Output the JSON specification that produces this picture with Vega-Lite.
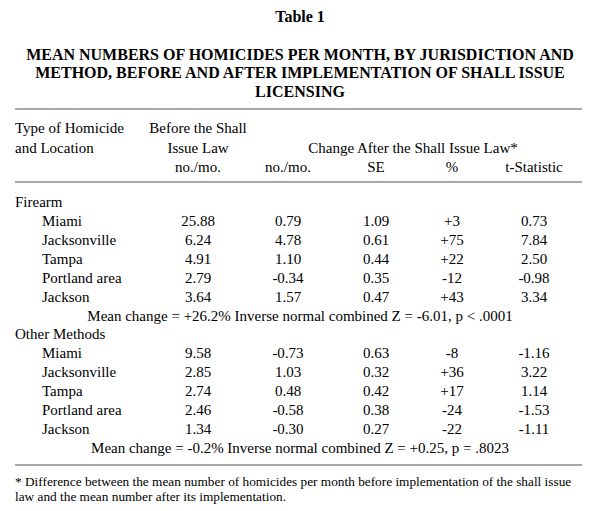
{
  "$schema": "https://vega.github.io/schema/vega-lite/v6.json",
  "width": 605,
  "height": 511,
  "autosize": {"type": "none"},
  "padding": 0,
  "background": "white",
  "config": {"view": {"stroke": null}, "text": {"font": "Liberation Serif", "color": "#000000"}},
  "encoding": {
    "x": {"field": "col", "type": "quantitative", "axis": null,
      "scale": {"domain": [0, 1, 2, 3, 4, 5, 6, 7, 8, 9], "range": [15, 42, 198, 288, 300, 376, 413, 452, 534, 582], "nice": false, "zero": false}},
    "y": {"field": "line", "type": "quantitative", "axis": null,
      "scale": {"domain": [0, 1, 2, 3, 4, 5, 7, 8, 9, 22, 23, 24, 25], "range": [17, 55, 73, 92, 109, 128, 167, 182, 202, 448, 465, 482, 497], "nice": false, "zero": false}}
  },
  "layer": [
    {
      "data": {"values": [{"line": 4, "col": 0, "end": 9}, {"line": 8, "col": 0, "end": 9}, {"line": 23, "col": 0, "end": 9}]},
      "mark": {"type": "rule", "stroke": "#a8a8a8", "strokeWidth": 2},
      "encoding": {"x2": {"field": "end"}}
    },
    {
      "data": {"values": [
        {"line": 0, "col": 4, "text": "Table 1"},
        {"line": 1, "col": 4, "text": "MEAN NUMBERS OF HOMICIDES PER MONTH, BY JURISDICTION AND"},
        {"line": 2, "col": 4, "text": "METHOD, BEFORE AND AFTER IMPLEMENTATION OF SHALL ISSUE"},
        {"line": 3, "col": 4, "text": "LICENSING"}
      ]},
      "mark": {"type": "text", "fontWeight": "bold", "fontSize": 16, "align": "center", "baseline": "middle"},
      "encoding": {"text": {"field": "text"}}
    },
    {
      "data": {"values": [
        {"line": 5, "col": 0, "text": "Type of Homicide"},
        {"line": 6, "col": 0, "text": "and Location"},
        {"line": 9, "col": 0, "text": "Firearm"},
        {"line": 10, "col": 1, "text": "Miami"},
        {"line": 11, "col": 1, "text": "Jacksonville"},
        {"line": 12, "col": 1, "text": "Tampa"},
        {"line": 13, "col": 1, "text": "Portland area"},
        {"line": 14, "col": 1, "text": "Jackson"},
        {"line": 16, "col": 0, "text": "Other Methods"},
        {"line": 17, "col": 1, "text": "Miami"},
        {"line": 18, "col": 1, "text": "Jacksonville"},
        {"line": 19, "col": 1, "text": "Tampa"},
        {"line": 20, "col": 1, "text": "Portland area"},
        {"line": 21, "col": 1, "text": "Jackson"}
      ]},
      "mark": {"type": "text", "fontSize": 15, "align": "left", "baseline": "middle"},
      "encoding": {"text": {"field": "text"}}
    },
    {
      "data": {"values": [
        {"line": 5, "col": 2, "text": "Before the Shall"},
        {"line": 6, "col": 2, "text": "Issue Law"},
        {"line": 6, "col": 6, "text": "Change After the Shall Issue Law*"},
        {"line": 7, "col": 2, "text": "no./mo."},
        {"line": 7, "col": 3, "text": "no./mo."},
        {"line": 7, "col": 5, "text": "SE"},
        {"line": 7, "col": 7, "text": "%"},
        {"line": 7, "col": 8, "text": "t-Statistic"},
        {"line": 10, "col": 2, "text": "25.88"}, {"line": 10, "col": 3, "text": "0.79"}, {"line": 10, "col": 5, "text": "1.09"}, {"line": 10, "col": 7, "text": "+3"}, {"line": 10, "col": 8, "text": "0.73"},
        {"line": 11, "col": 2, "text": "6.24"}, {"line": 11, "col": 3, "text": "4.78"}, {"line": 11, "col": 5, "text": "0.61"}, {"line": 11, "col": 7, "text": "+75"}, {"line": 11, "col": 8, "text": "7.84"},
        {"line": 12, "col": 2, "text": "4.91"}, {"line": 12, "col": 3, "text": "1.10"}, {"line": 12, "col": 5, "text": "0.44"}, {"line": 12, "col": 7, "text": "+22"}, {"line": 12, "col": 8, "text": "2.50"},
        {"line": 13, "col": 2, "text": "2.79"}, {"line": 13, "col": 3, "text": "-0.34"}, {"line": 13, "col": 5, "text": "0.35"}, {"line": 13, "col": 7, "text": "-12"}, {"line": 13, "col": 8, "text": "-0.98"},
        {"line": 14, "col": 2, "text": "3.64"}, {"line": 14, "col": 3, "text": "1.57"}, {"line": 14, "col": 5, "text": "0.47"}, {"line": 14, "col": 7, "text": "+43"}, {"line": 14, "col": 8, "text": "3.34"},
        {"line": 15, "col": 4, "text": "Mean change = +26.2% Inverse normal combined Z = -6.01, p < .0001"},
        {"line": 17, "col": 2, "text": "9.58"}, {"line": 17, "col": 3, "text": "-0.73"}, {"line": 17, "col": 5, "text": "0.63"}, {"line": 17, "col": 7, "text": "-8"}, {"line": 17, "col": 8, "text": "-1.16"},
        {"line": 18, "col": 2, "text": "2.85"}, {"line": 18, "col": 3, "text": "1.03"}, {"line": 18, "col": 5, "text": "0.32"}, {"line": 18, "col": 7, "text": "+36"}, {"line": 18, "col": 8, "text": "3.22"},
        {"line": 19, "col": 2, "text": "2.74"}, {"line": 19, "col": 3, "text": "0.48"}, {"line": 19, "col": 5, "text": "0.42"}, {"line": 19, "col": 7, "text": "+17"}, {"line": 19, "col": 8, "text": "1.14"},
        {"line": 20, "col": 2, "text": "2.46"}, {"line": 20, "col": 3, "text": "-0.58"}, {"line": 20, "col": 5, "text": "0.38"}, {"line": 20, "col": 7, "text": "-24"}, {"line": 20, "col": 8, "text": "-1.53"},
        {"line": 21, "col": 2, "text": "1.34"}, {"line": 21, "col": 3, "text": "-0.30"}, {"line": 21, "col": 5, "text": "0.27"}, {"line": 21, "col": 7, "text": "-22"}, {"line": 21, "col": 8, "text": "-1.11"},
        {"line": 22, "col": 4, "text": "Mean change = -0.2% Inverse normal combined Z = +0.25, p = .8023"}
      ]},
      "mark": {"type": "text", "fontSize": 15, "align": "center", "baseline": "middle"},
      "encoding": {"text": {"field": "text"}}
    },
    {
      "data": {"values": [
        {"line": 24, "col": 0, "text": "* Difference between the mean number of homicides per month before implementation of the shall issue"},
        {"line": 25, "col": 0, "text": "law and the mean number after its implementation."}
      ]},
      "mark": {"type": "text", "fontSize": 13.3, "align": "left", "baseline": "middle"},
      "encoding": {"text": {"field": "text"}}
    }
  ]
}
